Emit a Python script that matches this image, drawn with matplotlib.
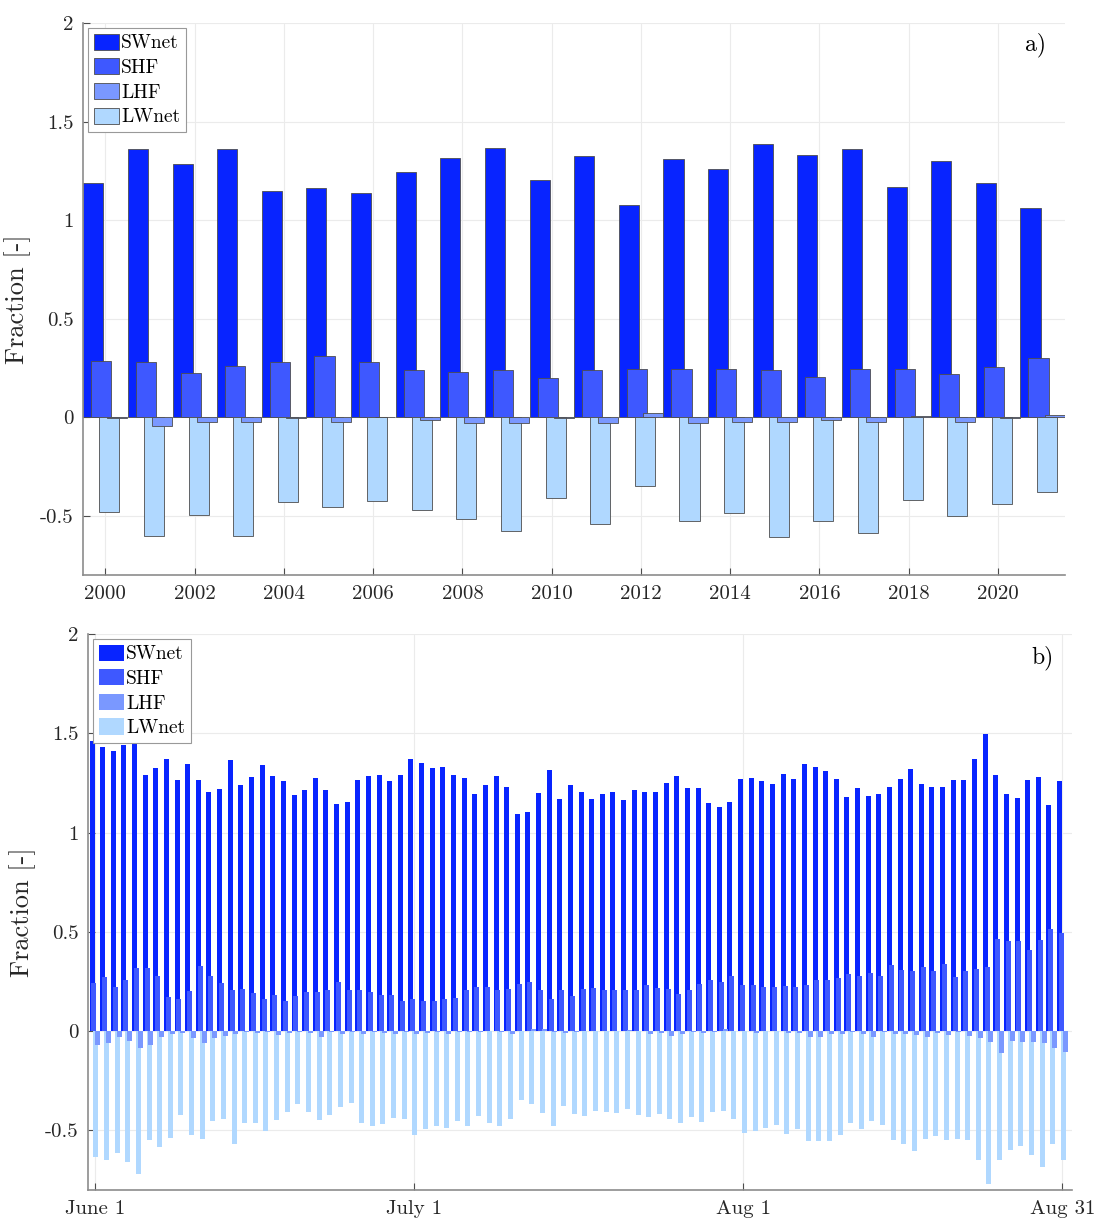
import numpy as np
import matplotlib
matplotlib.use("Agg")
import matplotlib.pyplot as plt

plt.rcParams['font.family'] = 'serif'
plt.rcParams['font.serif'] = ['cmr10', 'DejaVu Serif']
plt.rcParams['axes.unicode_minus'] = False
plt.rcParams['mathtext.fontset'] = 'cm'

# =============================================================================
# dados - painel a (anual)
# =============================================================================

anos = np.arange(2000, 2022)

sw_ano = [1.19, 1.36, 1.286, 1.36, 1.148, 1.165, 1.14, 1.245, 1.316, 1.367, 1.204,
          1.327, 1.078, 1.308, 1.261, 1.388, 1.33, 1.36, 1.168, 1.30, 1.19, 1.06]
shf_ano = [0.287, 0.279, 0.226, 0.26, 0.279, 0.313, 0.28, 0.241, 0.23, 0.24, 0.20,
           0.24, 0.245, 0.245, 0.245, 0.238, 0.203, 0.245, 0.246, 0.221, 0.255, 0.30]
lhf_ano = [-0.002, -0.044, -0.022, -0.022, -0.002, -0.022, 0.003, -0.015, -0.03, -0.03, -0.002,
           -0.03, 0.02, -0.027, -0.024, -0.024, -0.014, -0.024, 0.005, -0.024, -0.003, 0.01]
lw_ano = [-0.48, -0.602, -0.495, -0.604, -0.432, -0.457, -0.423, -0.471, -0.515, -0.577, -0.408,
          -0.54, -0.347, -0.525, -0.486, -0.607, -0.524, -0.588, -0.42, -0.50, -0.442, -0.378]

# =============================================================================
# dados - painel b (diario, 1 jun - 31 ago)
# =============================================================================

dias = np.arange(92)

sw_dia = [1.46, 1.43, 1.41, 1.44, 1.48, 1.29, 1.325, 1.37, 1.265, 1.345, 1.265, 1.205,
          1.22, 1.365, 1.24, 1.28, 1.34, 1.285, 1.26, 1.19, 1.215, 1.275, 1.215, 1.145,
          1.155, 1.263, 1.283, 1.292, 1.258, 1.292, 1.372, 1.35, 1.325, 1.33, 1.292, 1.275,
          1.192, 1.238, 1.283, 1.228, 1.092, 1.103, 1.197, 1.313, 1.17, 1.237, 1.203, 1.17,
          1.195, 1.203, 1.163, 1.212, 1.203, 1.203, 1.25, 1.283, 1.225, 1.225, 1.147, 1.13,
          1.153, 1.27, 1.275, 1.258, 1.245, 1.295, 1.27, 1.347, 1.33, 1.312, 1.27, 1.178,
          1.225, 1.183, 1.195, 1.23, 1.272, 1.32, 1.242, 1.23, 1.23, 1.267, 1.267, 1.372,
          1.497, 1.288, 1.192, 1.175, 1.267, 1.28, 1.138, 1.258]
shf_dia = [0.242, 0.275, 0.222, 0.258, 0.317, 0.317, 0.28, 0.172, 0.163, 0.203, 0.328, 0.28,
           0.242, 0.208, 0.213, 0.19, 0.162, 0.18, 0.153, 0.175, 0.197, 0.195, 0.205, 0.247,
           0.205, 0.207, 0.195, 0.18, 0.183, 0.153, 0.162, 0.15, 0.153, 0.162, 0.167, 0.208,
           0.222, 0.222, 0.205, 0.212, 0.237, 0.247, 0.208, 0.163, 0.208, 0.175, 0.212, 0.217,
           0.205, 0.205, 0.205, 0.205, 0.233, 0.217, 0.212, 0.188, 0.205, 0.237, 0.258, 0.245,
           0.278, 0.233, 0.23, 0.222, 0.222, 0.228, 0.222, 0.23, 0.255, 0.258, 0.267, 0.287,
           0.28, 0.295, 0.28, 0.333, 0.308, 0.303, 0.322, 0.303, 0.337, 0.275, 0.303, 0.313,
           0.322, 0.463, 0.455, 0.455, 0.408, 0.458, 0.513, 0.495]
lhf_dia = [-0.07, -0.058, -0.028, -0.05, -0.083, -0.07, -0.028, -0.013, -0.008, -0.033, -0.058, -0.033,
           -0.025, -0.013, -0.005, -0.008, -0.003, -0.02, -0.01, -0.003, -0.01, -0.028, -0.005, -0.012,
           -0.003, -0.012, -0.003, -0.008, -0.012, -0.003, -0.017, -0.008, -0.003, -0.012, -0.003, -0.003,
           -0.003, 0.0, -0.003, -0.012, 0.0, 0.012, 0.01, -0.003, -0.008, -0.003, 0.0, 0.0,
           0.0, 0.0, 0.008, 0.0, -0.012, -0.008, -0.025, -0.012, -0.003, -0.008, -0.003, 0.012,
           0.0, 0.0, -0.008, 0.0, 0.0, -0.008, -0.008, -0.028, -0.03, -0.017, -0.017, -0.003,
           -0.017, -0.028, -0.003, -0.013, -0.013, -0.02, -0.028, -0.008, -0.02, -0.003, -0.025, -0.037,
           -0.053, -0.108, -0.05, -0.053, -0.055, -0.062, -0.087, -0.105]
lw_dia = [-0.633, -0.65, -0.612, -0.658, -0.717, -0.55, -0.583, -0.537, -0.422, -0.525, -0.542, -0.455,
          -0.442, -0.567, -0.463, -0.463, -0.503, -0.447, -0.408, -0.367, -0.405, -0.447, -0.42, -0.383,
          -0.363, -0.462, -0.48, -0.467, -0.437, -0.445, -0.522, -0.495, -0.48, -0.487, -0.455, -0.48,
          -0.428, -0.463, -0.48, -0.442, -0.347, -0.367, -0.413, -0.48, -0.378, -0.417, -0.425, -0.40,
          -0.408, -0.413, -0.392, -0.42, -0.433, -0.417, -0.445, -0.463, -0.433, -0.458, -0.408, -0.40,
          -0.442, -0.512, -0.503, -0.487, -0.475, -0.52, -0.492, -0.553, -0.553, -0.553, -0.525, -0.462,
          -0.492, -0.453, -0.475, -0.55, -0.57, -0.605, -0.542, -0.528, -0.55, -0.542, -0.55, -0.65,
          -0.77, -0.647, -0.60, -0.58, -0.622, -0.683, -0.57, -0.65]

ticks_b = [0, 30, 61, 91]
labels_b = ['June 1', 'July 1', 'Aug 1', 'Aug 31']

yticks = [-0.5, 0, 0.5, 1, 1.5, 2]
ylabels = ['-0.5', '0', '0.5', '1', '1.5', '2']

cores = {'SWnet': '#0824ff', 'SHF': '#3e58ff', 'LHF': '#7a98ff', 'LWnet': '#b0d8ff'}
desloc = {'SWnet': -0.27, 'SHF': -0.09, 'LWnet': 0.09, 'LHF': 0.27}


def formata(ax):
    for s in ['top', 'right']:
        ax.spines[s].set_visible(False)
    for s in ['left', 'bottom']:
        ax.spines[s].set_color('0.55')
        ax.spines[s].set_linewidth(1.2)
    ax.set_ylim(-0.8, 2)
    ax.set_yticks(yticks)
    ax.set_yticklabels(ylabels)
    ax.tick_params(direction='in', length=5, width=0.8, color='0.3', labelsize=15,
                   labelcolor='0.15', pad=7)
    ax.grid(True, color='#ebebeb', linewidth=0.8)
    ax.set_axisbelow(True)
    ax.set_ylabel('Fraction [-]', fontsize=19, color='0.15', labelpad=6)


def desenha(ax, x, series, largura, borda, lw):
    handles = {}
    for nome in ['SWnet', 'SHF', 'LWnet', 'LHF']:
        handles[nome] = ax.bar(x + desloc[nome], series[nome], largura, color=cores[nome],
                               edgecolor=borda, linewidth=lw, label=nome)
    ordem = ['SWnet', 'SHF', 'LHF', 'LWnet']
    leg = ax.legend([handles[n] for n in ordem], ordem, loc='upper left', fontsize=14,
                    fancybox=False, framealpha=1, edgecolor='0.6', borderpad=0.3,
                    labelspacing=0.3, handlelength=1.3, handleheight=0.9,
                    handletextpad=0.1, borderaxespad=0.25)
    leg.get_frame().set_linewidth(0.8)


fig = plt.figure(figsize=(10.97, 12.18), dpi=100)

#%% painel a

ax1 = fig.add_axes([0.0757, 0.5279, 0.895, 0.4532])
desenha(ax1, anos, {'SWnet': sw_ano, 'SHF': shf_ano, 'LHF': lhf_ano, 'LWnet': lw_ano},
        0.45, '0.3', 0.6)
formata(ax1)
ax1.set_xlim(1999.5, 2021.5)
ax1.set_xticks(np.arange(2000, 2021, 2))
ax1.text(0.97, 0.96, 'a)', transform=ax1.transAxes, fontsize=17, ha='center', va='center')

#%% painel b

ax2 = fig.add_axes([0.0802, 0.023, 0.897, 0.4565])
desenha(ax2, dias, {'SWnet': sw_dia, 'SHF': shf_dia, 'LHF': lhf_dia, 'LWnet': lw_dia},
        0.47, 'none', 0)
formata(ax2)
ax2.set_xlim(-0.65, 91.9)
ax2.set_xticks(ticks_b)
ax2.set_xticklabels(labels_b)
ax2.text(0.97, 0.957, 'b)', transform=ax2.transAxes, fontsize=17, ha='center', va='center')

plt.savefig('out.png', dpi=100)
